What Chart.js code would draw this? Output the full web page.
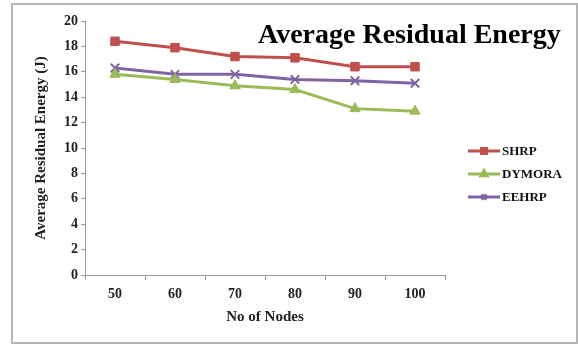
<!DOCTYPE html>
<html>
<head>
<meta charset="utf-8">
<script src="https://cdn.jsdelivr.net/npm/chart.js@4"></script>
<style>
  html, body { margin: 0; padding: 0; background: #fff; }
  #wrap { width: 578px; height: 346px; position: relative; }
</style>
</head>
<body>
<div id="wrap"><canvas id="grafica"></canvas></div>
<script>
const nodos = ['50', '60', '70', '80', '90', '100'];
const shrp = [18.4, 17.9, 17.2, 17.1, 16.4, 16.4];
const dymora = [15.8, 15.4, 14.9, 14.6, 13.1, 12.9];
const eehrp = [16.3, 15.8, 15.8, 15.4, 15.3, 15.1];
const nombres = ['SHRP', 'DYMORA', 'EEHRP'];
const colores = ['#C0504D', '#9BBB59', '#8064A2'];
const marcas = ['rect', 'triangle', 'crossRot'];

const serif = "'Liberation Serif', 'Times New Roman', serif";

// marco, titulo y leyenda a mano
const extras = {
    id: 'extras',
    afterDraw(chart) {
        const ctx = chart.ctx;
        ctx.save();
        ctx.strokeStyle = '#b5b5b5';
        ctx.lineWidth = 2;
        ctx.strokeRect(12, 4, 565, 339);

        ctx.fillStyle = '#000';
        ctx.font = 'bold 28px ' + serif;
        ctx.textAlign = 'left';
        ctx.textBaseline = 'middle';
        ctx.fillText('Average Residual Energy', 258, 36);

        chart.data.datasets.forEach((ds, i) => {
            const y = 151 + i * 23;
            ctx.strokeStyle = ds.borderColor;
            ctx.fillStyle = ds.borderColor;
            ctx.lineWidth = 3;
            ctx.beginPath();
            ctx.moveTo(468, y);
            ctx.lineTo(500, y);
            ctx.stroke();
            Chart.helpers.drawPoint(ctx, {
                pointStyle: ds.pointStyle,
                radius: 3.5,
                borderWidth: 2
            }, 484, y);
            ctx.fillStyle = '#111';
            ctx.font = 'bold 13px ' + serif;
            ctx.fillText(ds.label, 502, y + 1);
        });
        ctx.restore();
    }
};

const series = [shrp, dymora, eehrp];
const ctx = document.getElementById('grafica').getContext('2d');
const chart = new Chart(ctx, {
    type: 'line',
    data: {
        labels: nodos,
        datasets: series.map((d, i) => ({
            label: nombres[i],
            data: d,
            borderColor: colores[i],
            backgroundColor: colores[i],
            borderWidth: 3,
            pointStyle: marcas[i],
            pointRadius: 6,
            pointBorderWidth: i === 2 ? 2 : 1,
            tension: 0
        }))
    },
    options: {
        responsive: true,
        maintainAspectRatio: false,
        animation: false,
        layout: { padding: { left: 32, right: 133, top: 21, bottom: 20 } },
        plugins: {
            legend: { display: false },
            tooltip: { enabled: false }
        },
        scales: {
            x: {
                offset: true,
                afterFit: s => { s.height = 51; },
                grid: { offset: true, drawOnChartArea: false, tickLength: 5, color: '#999' },
                border: { color: '#999', width: 1 },
                ticks: { color: '#222', padding: 6, font: { family: serif, size: 14, weight: 'bold' } },
                title: {
                    display: true, text: 'No of Nodes', color: '#222',
                    padding: { top: 4, bottom: 0 },
                    font: { family: serif, size: 15, weight: 'bold' }
                }
            },
            y: {
                min: 0, max: 20,
                afterFit: s => { s.width = 53; },
                grid: { drawOnChartArea: false, tickLength: 4, color: '#999' },
                border: { color: '#999', width: 1 },
                ticks: { stepSize: 2, color: '#222', padding: 3, font: { family: serif, size: 14, weight: 'bold' } },
                title: {
                    display: true, text: 'Average Residual Energy (J)', color: '#222',
                    padding: 0,
                    font: { family: serif, size: 15, weight: 'bold' }
                }
            }
        }
    },
    plugins: [extras]
});
</script>
</body>
</html>
